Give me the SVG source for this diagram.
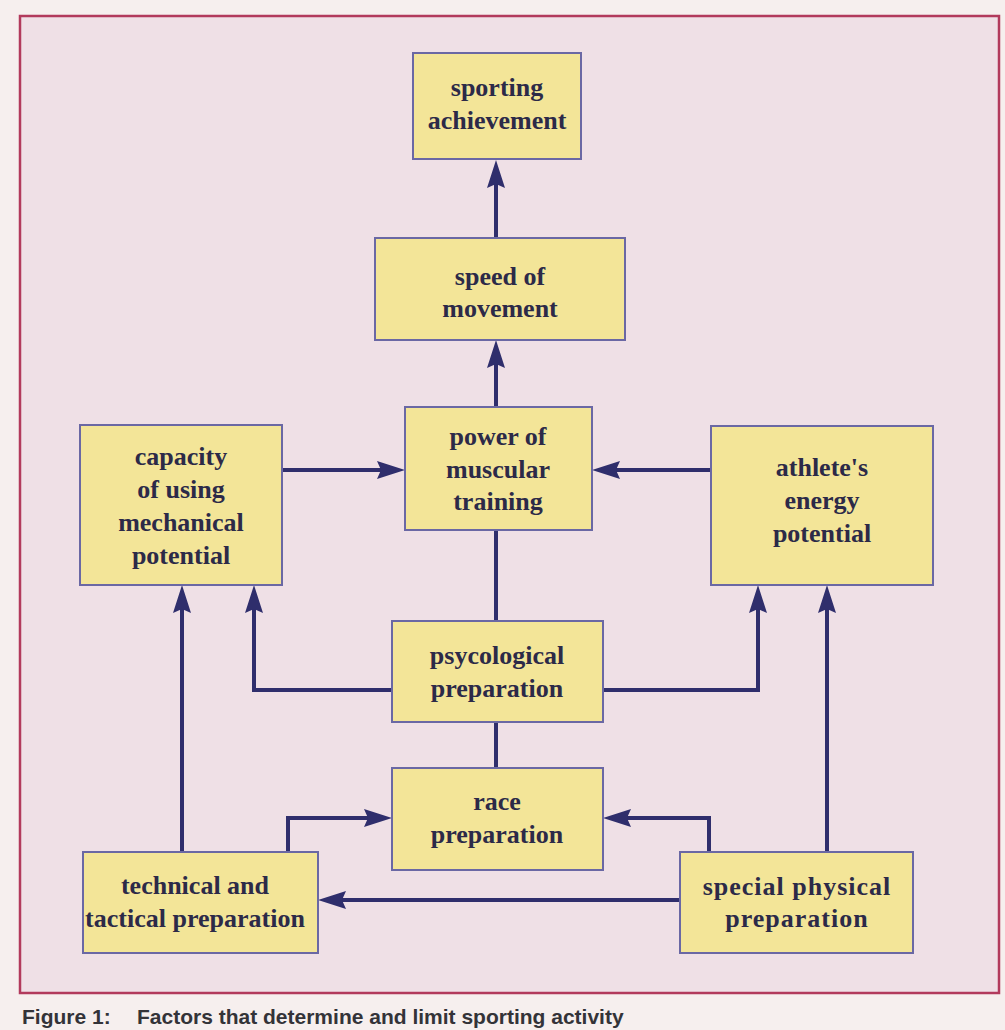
<svg xmlns="http://www.w3.org/2000/svg" width="1005" height="1030" viewBox="0 0 1005 1030">
<style>
.box{fill:#f3e598;stroke:#6a68a4;stroke-width:2}
.lbl{font-family:"Liberation Serif","Times New Roman",serif;font-weight:bold;font-size:26px;fill:#2c2a48;text-anchor:middle}
.wide{letter-spacing:1px}
.con{fill:none;stroke:#2f2e6c;stroke-width:4}
.cap{font-family:"Liberation Sans",Arial,sans-serif;font-weight:bold;font-size:21px;fill:#333338}
</style>
<defs>
<marker id="ah" markerUnits="userSpaceOnUse" viewBox="0 0 28 18" markerWidth="28" markerHeight="18" refX="18" refY="9" orient="auto">
<path d="M0,0 L28,9 L0,18 L4,9 Z" fill="#2f2e6c"/>
</marker>
</defs>
<rect x="0" y="0" width="1005" height="1030" fill="#f6efee"/>
<rect x="20" y="16" width="979" height="977" fill="#efe0e6" stroke="#b23a5c" stroke-width="2.5"/>
<g id="connectors">
<path class="con" d="M496,238 V170" marker-end="url(#ah)"/>
<path class="con" d="M496,407 V350" marker-end="url(#ah)"/>
<path class="con" d="M282,470 H395" marker-end="url(#ah)"/>
<path class="con" d="M711,470 H602" marker-end="url(#ah)"/>
<path class="con" d="M496,530 V621"/>
<path class="con" d="M496,768 V722"/>
<path class="con" d="M392,690 H254 V595" marker-end="url(#ah)"/>
<path class="con" d="M603,690 H758 V595" marker-end="url(#ah)"/>
<path class="con" d="M182,852 V595" marker-end="url(#ah)"/>
<path class="con" d="M288,852 V818 H382" marker-end="url(#ah)"/>
<path class="con" d="M709,852 V818 H613" marker-end="url(#ah)"/>
<path class="con" d="M827,852 V595" marker-end="url(#ah)"/>
<path class="con" d="M680,900 H328" marker-end="url(#ah)"/>
</g>
<g id="sporting-achievement">
<rect class="box" x="413" y="53" width="168" height="106"/>
<text class="lbl" x="497" y="96">sporting</text>
<text class="lbl" x="497" y="129">achievement</text>
</g>
<g id="speed-of-movement">
<rect class="box" x="375" y="238" width="250" height="102"/>
<text class="lbl" x="500" y="285">speed of</text>
<text class="lbl" x="500" y="317">movement</text>
</g>
<g id="power-of-muscular-training">
<rect class="box" x="405" y="407" width="187" height="123"/>
<text class="lbl" x="498" y="445">power of</text>
<text class="lbl" x="498" y="478">muscular</text>
<text class="lbl" x="498" y="510">training</text>
</g>
<g id="capacity-mechanical-potential">
<rect class="box" x="80" y="425" width="202" height="160"/>
<text class="lbl" x="181" y="465">capacity</text>
<text class="lbl" x="181" y="498">of using</text>
<text class="lbl" x="181" y="531">mechanical</text>
<text class="lbl" x="181" y="564">potential</text>
</g>
<g id="athletes-energy-potential">
<rect class="box" x="711" y="426" width="222" height="159"/>
<text class="lbl" x="822" y="476">athlete's</text>
<text class="lbl" x="822" y="509">energy</text>
<text class="lbl" x="822" y="542">potential</text>
</g>
<g id="psycological-preparation">
<rect class="box" x="392" y="621" width="211" height="101"/>
<text class="lbl" x="497" y="664">psycological</text>
<text class="lbl" x="497" y="697">preparation</text>
</g>
<g id="race-preparation">
<rect class="box" x="392" y="768" width="211" height="102"/>
<text class="lbl" x="497" y="810">race</text>
<text class="lbl" x="497" y="843">preparation</text>
</g>
<g id="technical-tactical-preparation">
<rect class="box" x="83" y="852" width="235" height="101"/>
<text class="lbl" x="195" y="894">technical and</text>
<text class="lbl" x="195" y="927">tactical preparation</text>
</g>
<g id="special-physical-preparation">
<rect class="box" x="680" y="852" width="233" height="101"/>
<text class="lbl wide" x="797" y="895">special physical</text>
<text class="lbl wide" x="797" y="927">preparation</text>
</g>
<text class="cap" y="1024"><tspan x="22">Figure 1:</tspan><tspan x="137">Factors that determine and limit sporting activity</tspan></text>
</svg>
